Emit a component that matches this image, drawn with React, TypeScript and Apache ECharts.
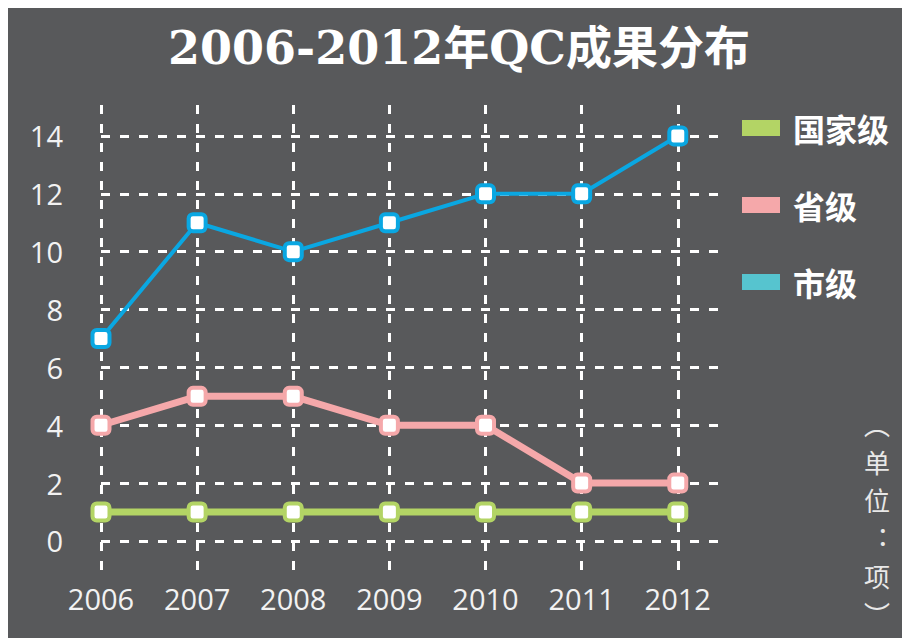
import React, { useEffect, useRef } from "react";
import * as echarts from "echarts";

const years = ["2006", "2007", "2008", "2009", "2010", "2011", "2012"];
const national = [1, 1, 1, 1, 1, 1, 1];
const provincial = [4, 5, 5, 4, 4, 2, 2];
const city = [7, 11, 10, 11, 12, 12, 14];
const yTicks = [0, 2, 4, 6, 8, 10, 12, 14];
const seriesNames = ["国家级", "省级", "市级"];
const titleText = "2006-2012年QC成果分布";
const unitText = "︵\n单\n位\n︓\n项\n︶";

const BG = "#58595b";
const GREEN = "#b3d465";
const PINK = "#f5a8aa";
const BLUE = "#0aa7e2";
const TEAL = "#56c4cf";

export default function App() {
  const ref = useRef<HTMLDivElement>(null);
  useEffect(() => {
    if (!ref.current) return;
    const chart = echarts.init(ref.current, null, { renderer: "svg" });
    const toPairs = (vals: number[]) => years.map((y, i) => [Number(y), vals[i]]);
    const mk = (name: string, vals: number[], color: string, width: number) => ({
      name,
      type: "line",
      data: toPairs(vals),
      symbol: "roundRect",
      symbolSize: 17,
      lineStyle: { color, width },
      itemStyle: { color: "#ffffff", borderColor: color, borderWidth: 4 },
      emphasis: { disabled: true },
    });
    chart.setOption({
      animation: false,
      backgroundColor: BG,
      title: {
        text: titleText,
        left: "center",
        top: 12,
        textStyle: {
          color: "#ffffff",
          fontSize: 46,
          fontWeight: "bold",
          fontFamily: "'DejaVu Serif', 'Noto Sans CJK SC', serif",
        },
      },
      legend: {
        orient: "vertical",
        left: 734,
        top: 104,
        padding: 0,
        icon: "rect",
        itemWidth: 38,
        itemHeight: 16,
        itemGap: 45,
        selectedMode: false,
        textStyle: {
          color: "#ffffff",
          fontSize: 32,
          fontWeight: "bold",
          fontFamily: "'Noto Sans CJK SC', sans-serif",
          padding: [0, 0, 0, 8],
        },
        data: [
          { name: seriesNames[0], itemStyle: { color: GREEN, borderWidth: 0 } },
          { name: seriesNames[1], itemStyle: { color: PINK, borderWidth: 0 } },
          { name: seriesNames[2], itemStyle: { color: TEAL, borderWidth: 0 } },
        ],
      },
      grid: { left: 93, right: 188, top: 97, bottom: 60, containLabel: false },
      xAxis: {
        type: "value",
        min: 2006,
        max: 2012.46,
        axisLine: { show: false },
        axisTick: { show: false, customValues: years.map(Number) },
        axisLabel: {
          customValues: years.map(Number),
          formatter: (v: number) => String(v),
          color: "#f2f2f2",
          fontSize: 29,
          margin: 6,
          fontFamily: "'Open Sans', sans-serif",
        },
        splitLine: {
          show: true,
          lineStyle: { color: "#ffffff", width: 3, type: [9, 10] },
        },
      },
      yAxis: {
        type: "value",
        min: -1.28,
        max: 15.07,
        axisLine: { show: false },
        axisTick: { show: false, customValues: yTicks },
        axisLabel: {
          customValues: yTicks,
          color: "#f2f2f2",
          fontSize: 29,
          margin: 38,
          fontFamily: "'Open Sans', sans-serif",
        },
        splitLine: {
          show: true,
          lineStyle: { color: "#ffffff", width: 3, type: [9, 10] },
        },
      },
      graphic: [
        {
          type: "text",
          x: 869,
          y: 396,
          style: {
            text: unitText,
            fill: "#e8e8e8",
            fontSize: 26,
            lineHeight: 38,
            textAlign: "center",
            fontFamily: "'Noto Sans CJK SC', sans-serif",
          },
        },
      ],
      series: [
        mk(seriesNames[0], national, GREEN, 7),
        mk(seriesNames[1], provincial, PINK, 7),
        mk(seriesNames[2], city, BLUE, 4),
      ],
    });
    return () => chart.dispose();
  }, []);
  return <div ref={ref} style={{ width: 902, height: 630 }} />;
}
